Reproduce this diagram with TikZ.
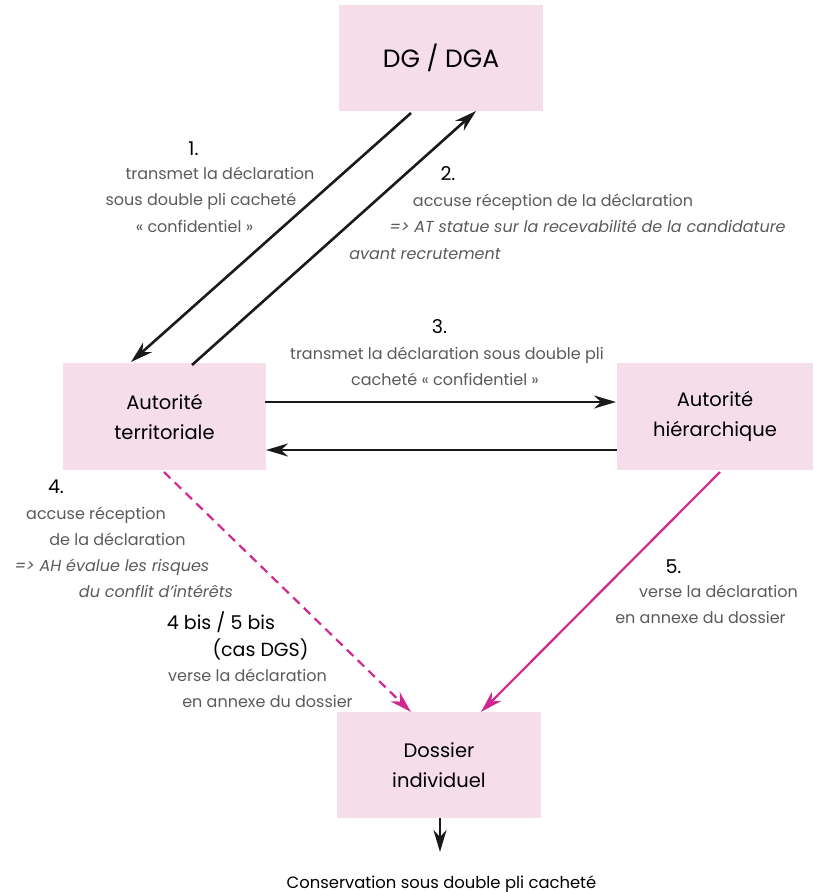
\documentclass[tikz,border=0pt]{standalone}
\usepackage{fontspec}
\setmainfont{Poppins}
\usetikzlibrary{arrows.meta}
\definecolor{boxpink}{HTML}{F5DDEA}
\definecolor{mag}{HTML}{D1288F}
\definecolor{txtgray}{HTML}{5A5A5A}
\definecolor{arrblack}{HTML}{1A1A1A}
\begin{document}
\begin{tikzpicture}[x=1pt,y=-1pt,
  box/.style={fill=boxpink, inner sep=0pt, align=center, text=black, font=\fontsize{19.5}{30}\selectfont},
  lbl/.style={anchor=base, inner sep=0pt, text=txtgray, font=\fontsize{16}{19}\selectfont},
  ilbl/.style={lbl, font=\fontsize{16}{19}\selectfont\itshape},
  num/.style={anchor=base, inner sep=0pt, text=black, font=\fontsize{19}{22}\selectfont},
  tip/.style={-{Stealth[length=22pt,width=13pt,inset=7pt]}},
  blk/.style={draw=arrblack, line width=2.6pt, tip},
  pnk/.style={draw=mag, line width=2.2pt, tip},
]
\useasboundingbox (0,0) rectangle (814,892);

% boxes
\node[box, minimum width=204pt, minimum height=106pt, font=\fontsize{25}{30}\selectfont] (dg) at (441,58) {DG / DGA};
\node[box, minimum width=203pt, minimum height=107pt] (at) at (164.5,416.5) {Autorité\\territoriale};
\node[box, minimum width=196pt, minimum height=107pt] (ah) at (715,416.5) {Autorité\\hiérarchique};
\node[box, minimum width=204pt, minimum height=106pt] (di) at (439,765) {Dossier\\individuel};

% connector anchors
\coordinate (dgA) at (411,113);
\coordinate (atA) at (131,362);
\coordinate (atB) at (192,365);
\coordinate (dgB) at (476,111);
\coordinate (at3) at (265,402);
\coordinate (ah3) at (616,402);
\coordinate (ah4) at (617,450);
\coordinate (at4) at (266,450);
\coordinate (atD) at (164,472);
\coordinate (diA) at (411,712);
\coordinate (ahD) at (720,472);
\coordinate (diB) at (481,712);
\coordinate (diC) at (440,818);
\coordinate (cons) at (440,852);

\draw[blk] (dgA) -- (atA);
\draw[blk] (atB) -- (dgB);
\draw[blk] (at3) -- (ah3);
\draw[blk] (ah4) -- (at4);
\draw[pnk, dash pattern=on 9pt off 6pt] (atD) -- (diA);
\draw[pnk] (ahD) -- (diB);
\draw[blk] (diC) -- (cons);

% label 1
\node[num] (n1) at (193.5,155) {1.};
\node[lbl] (l1a) at (220,179) {transmet la déclaration};
\node[lbl] (l1b) at (201,205) {sous double pli cacheté};
\node[lbl] (l1c) at (194.5,232) {« confidentiel »};

% label 2
\node[num] (n2) at (448,180) {2.};
\node[lbl] (l2a) at (553,206) {accuse réception de la déclaration};
\node[ilbl] (l2b) at (587.5,232) {=> AT statue sur la recevabilité de la candidature};
\node[ilbl] (l2c) at (425,259) {avant recrutement};

% label 3
\node[num] (n3) at (439.5,333) {3.};
\node[lbl] (l3a) at (447,359) {transmet la déclaration sous double pli};
\node[lbl] (l3b) at (445,385) {cacheté « confidentiel »};

% label 4
\node[num] (n4) at (56,493) {4.};
\node[lbl] (l4a) at (96,519) {accuse réception};
\node[lbl] (l4b) at (117.5,545) {de la déclaration};
\node[ilbl] (l4c) at (112,571) {=> AH évalue les risques};
\node[ilbl] (l4d) at (156,597) {du conflit d’intérêts};

% label 4 bis
\node[num] (n4b) at (221,629) {4 bis / 5 bis};
\node[num] (n4c) at (260.5,656) {(cas DGS)};
\node[lbl] (l4e) at (247.5,681) {verse la déclaration};
\node[lbl] (l4f) at (267.5,707) {en annexe du dossier};

% label 5
\node[num] (n5) at (673.5,573) {5.};
\node[lbl] (l5a) at (718.5,597) {verse la déclaration};
\node[lbl] (l5b) at (700.5,623) {en annexe du dossier};

% bottom
\node[num, font=\fontsize{16.4}{19}\selectfont] (consl) at (441.5,888) {Conservation sous double pli cacheté};
\end{tikzpicture}
\end{document}
